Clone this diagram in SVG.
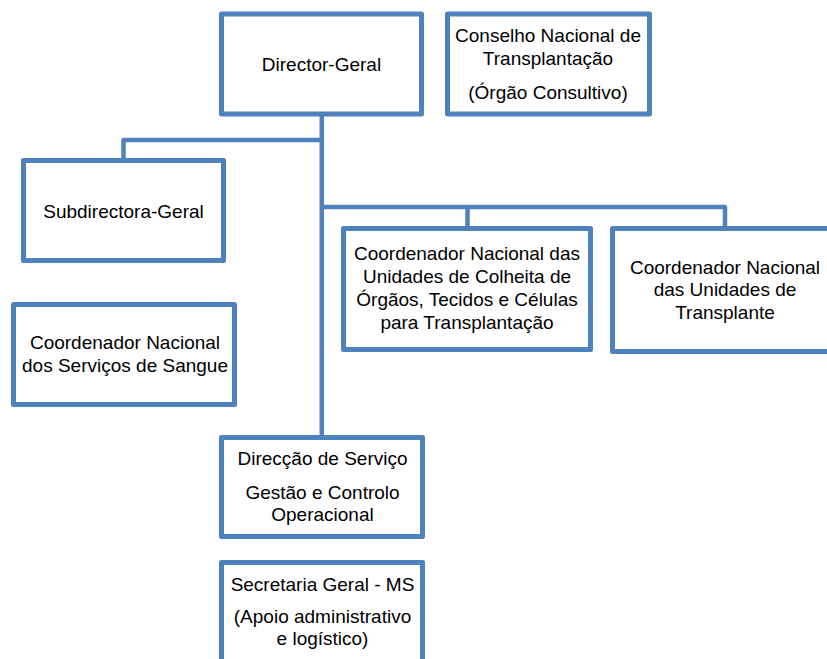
<svg xmlns="http://www.w3.org/2000/svg" width="827" height="659" viewBox="0 0 827 659">
<style>
.box{fill:#ffffff;stroke:#4f81bd;stroke-width:5;stroke-linejoin:round}
.con{fill:none;stroke:#4f81bd;stroke-width:4.5;stroke-linejoin:round}
text{font-family:"Liberation Sans",Arial,sans-serif;font-size:19px;fill:#000000;text-anchor:middle}
</style>
<rect width="827" height="659" fill="#ffffff"/>
<g id="connectors">
<path class="con" d="M321.8,116 V437.5"/>
<path class="con" d="M321.8,140 H123.5 V160.5"/>
<path class="con" d="M321.8,207 H725 V228.5 M467.5,207 V228.5"/>
</g>
<g id="director-geral">
<rect class="box" x="221.5" y="14" width="200" height="100"/>
<text x="321.5" y="71">Director-Geral</text>
</g>
<g id="conselho">
<rect class="box" x="447.5" y="14" width="202" height="100"/>
<text x="548" y="42">Conselho Nacional de</text>
<text x="548" y="65">Transplantação</text>
<text x="548" y="98.5">(Órgão Consultivo)</text>
</g>
<g id="subdirectora">
<rect class="box" x="23.5" y="160.5" width="200" height="100"/>
<text x="123.5" y="217.5">Subdirectora-Geral</text>
</g>
<g id="sangue">
<rect class="box" x="13.5" y="304.5" width="221" height="100"/>
<text x="125" y="348.5">Coordenador Nacional</text>
<text x="125" y="371.5">dos Serviços de Sangue</text>
</g>
<g id="colheita">
<rect class="box" x="343.5" y="228.5" width="247" height="121"/>
<text x="467" y="259.5">Coordenador Nacional das</text>
<text x="467" y="282.5">Unidades de Colheita de</text>
<text x="467" y="305.5">Órgãos, Tecidos e Células</text>
<text x="467" y="328.5">para Transplantação</text>
</g>
<g id="transplante">
<rect class="box" x="612.5" y="228.5" width="226" height="123"/>
<text x="725" y="273.5">Coordenador Nacional</text>
<text x="725" y="296">das Unidades de</text>
<text x="725" y="319">Transplante</text>
</g>
<g id="direccao">
<rect class="box" x="221.5" y="437.5" width="201" height="99"/>
<text x="322.5" y="465">Direcção de Serviço</text>
<text x="322.5" y="498.5">Gestão e Controlo</text>
<text x="322.5" y="521">Operacional</text>
</g>
<g id="secretaria">
<rect class="box" x="221.5" y="562.5" width="201" height="110"/>
<text x="322.5" y="591">Secretaria Geral - MS</text>
<text x="322.5" y="623">(Apoio administrativo</text>
<text x="322.5" y="645">e logístico)</text>
</g>
</svg>
